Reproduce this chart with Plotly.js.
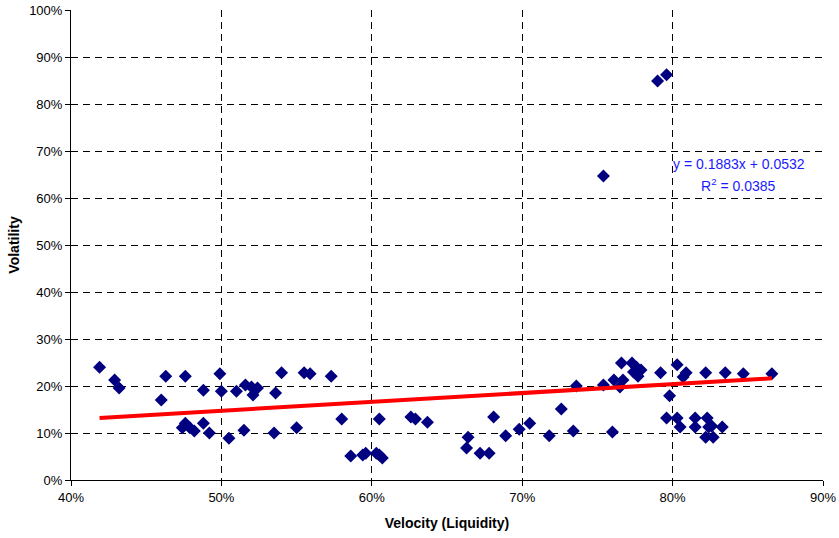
<!DOCTYPE html>
<html>
<head>
<meta charset="utf-8">
<script src="https://cdn.plot.ly/plotly-3.0.1.min.js"></script>
<style>html,body{margin:0;padding:0;background:#fff;}#chart{width:839px;height:538px;}</style>
</head>
<body>
<div id="chart"></div>
<script>
// Velocity (Liquidity), in %
const velocity = [41.9,42.9,43.2,46.0,46.3,47.6,47.4,47.6,47.9,48.2,48.8,48.8,49.2,49.9,50.0,50.5,51.0,51.6,51.5,52.0,52.1,52.4,53.5,53.6,54.0,55.0,55.5,55.9,57.3,58.0,58.6,59.4,59.6,60.3,60.5,60.7,60.5,62.6,62.9,63.7,66.4,66.3,67.2,67.8,68.1,68.9,69.8,70.5,71.8,72.6,73.4,73.6,75.4,75.4,76.0,76.1,76.5,76.6,76.7,77.3,77.4,77.6,77.7,77.9,79.0,79.6,79.2,79.8,79.6,80.3,80.3,80.5,80.9,80.7,81.5,81.5,82.2,82.3,82.4,82.2,82.7,82.6,83.3,83.5,84.7,86.6];
// Volatility, in %
const volatility = [24.0,21.3,19.6,17.0,22.1,22.1,11.1,12.1,11.1,10.4,19.1,12.1,10.0,22.6,18.9,8.9,18.9,20.2,10.6,19.8,18.1,19.6,10.0,18.5,22.8,11.1,22.8,22.6,22.1,13.0,5.1,5.3,5.7,5.7,5.3,4.7,13.0,13.4,13.0,12.3,9.1,6.8,5.7,5.7,13.4,9.4,10.8,12.1,9.4,15.1,10.4,20.0,64.7,20.2,10.2,21.3,19.8,24.9,21.3,24.9,23.0,24.0,22.1,23.4,84.9,86.2,22.8,17.9,13.2,24.5,13.2,11.3,22.8,21.9,13.2,11.3,22.8,13.2,11.3,9.1,9.1,11.5,11.3,22.8,22.6,22.6];
// Linear trend as labelled on the chart
const trendSlope = 0.1883;
const trendIntercept = 0.0532;
const trendR2 = 0.0385;
const xTickVals = [0.4,0.5,0.6,0.7,0.8,0.9];
const yTickVals = [0,0.1,0.2,0.3,0.4,0.5,0.6,0.7,0.8,0.9,1.0];

const xs = velocity.map(v => v/100);
const ys = volatility.map(v => v/100);
const xMin = Math.min(...xs), xMax = Math.max(...xs);
const trendX = [xMin, xMax];
const trendY = trendX.map(x => trendSlope*x + trendIntercept);

const fam = 'Liberation Sans, Arial, sans-serif';
const tickFont = {family: fam, size: 13, color: '#000'};
const titleFont = {family: fam, size: 14, color: '#000'};
const annFont = {family: fam, size: 14, color: '#1a1aff'};

Plotly.newPlot('chart', [
  {x: xs, y: ys, type: 'scatter', mode: 'markers',
   marker: {symbol: 'diamond', size: 10, color: '#000080', line: {width: 0}}},
  {x: trendX, y: trendY, type: 'scatter', mode: 'lines',
   line: {color: '#ff0000', width: 4}}
], {
  width: 839, height: 538,
  margin: {l: 71, r: 16, t: 10, b: 58},
  showlegend: false,
  paper_bgcolor: '#fff', plot_bgcolor: '#fff',
  font: tickFont,
  xaxis: {range: [0.4, 0.9], tickvals: xTickVals, tickformat: '.0%', tickfont: tickFont,
    showgrid: true, gridcolor: '#000', griddash: '7px,5px', gridwidth: 1,
    showline: true, linecolor: '#000', linewidth: 1, zeroline: false,
    ticks: 'outside', ticklen: 5, tickcolor: '#000',
    title: {text: '<b>Velocity (Liquidity)</b>', font: titleFont, standoff: 14}},
  yaxis: {range: [0, 1.0], tickvals: yTickVals, tickformat: '.0%', tickfont: tickFont,
    showgrid: true, gridcolor: '#000', griddash: '7px,5px', gridwidth: 1,
    showline: true, linecolor: '#000', linewidth: 1, zeroline: false,
    ticks: 'outside', ticklen: 5, tickcolor: '#000',
    title: {text: '<b>Volatility</b>', font: titleFont, standoff: 6}},
  annotations: [
    {xref: 'paper', yref: 'paper', x: 0.888, y: 0.672, xanchor: 'center', yanchor: 'middle', showarrow: false,
     text: 'y = ' + trendSlope.toFixed(4) + 'x + ' + trendIntercept.toFixed(4), font: annFont},
    {xref: 'paper', yref: 'paper', x: 0.888, y: 0.628, xanchor: 'center', yanchor: 'middle', showarrow: false,
     text: 'R<sup>2</sup> = ' + trendR2.toFixed(4), font: annFont}
  ]
}, {displayModeBar: false, staticPlot: true});
</script>
</body>
</html>
